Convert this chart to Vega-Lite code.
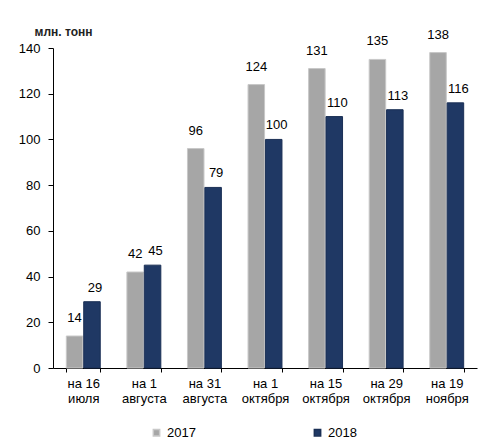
{
  "$schema": "https://vega.github.io/schema/vega-lite/v6.json",
  "autosize": "none",
  "width": 424,
  "height": 320,
  "padding": {"left": 53, "top": 48, "right": 2, "bottom": 78},
  "background": "white",
  "config": {
    "font": "Liberation Sans",
    "view": {"stroke": null}
  },
  "data": {
    "values": [
      {"date": "на 16 июля", "year": "2017", "value": 14},
      {"date": "на 16 июля", "year": "2018", "value": 29},
      {"date": "на 1 августа", "year": "2017", "value": 42},
      {"date": "на 1 августа", "year": "2018", "value": 45},
      {"date": "на 31 августа", "year": "2017", "value": 96},
      {"date": "на 31 августа", "year": "2018", "value": 79},
      {"date": "на 1 октября", "year": "2017", "value": 124},
      {"date": "на 1 октября", "year": "2018", "value": 100},
      {"date": "на 15 октября", "year": "2017", "value": 131},
      {"date": "на 15 октября", "year": "2018", "value": 110},
      {"date": "на 29 октября", "year": "2017", "value": 135},
      {"date": "на 29 октября", "year": "2018", "value": 113},
      {"date": "на 19 ноября", "year": "2017", "value": 138},
      {"date": "на 19 ноября", "year": "2018", "value": 116}
    ]
  },
  "encoding": {
    "x": {
      "field": "date", "type": "nominal", "sort": null,
      "scale": {"paddingInner": 0.44, "paddingOuter": 0.22},
      "axis": {
        "title": null, "labelAngle": 0, "labelFontSize": 13, "labelColor": "#000",
        "domainColor": "#000", "tickColor": "#000", "tickBand": "extent", "tickSize": 4,
        "labelPadding": 5, "labelLineHeight": 15,
        "labelExpr": "isString(datum.value) ? [slice(datum.value, 0, lastindexof(datum.value, ' ')), slice(datum.value, lastindexof(datum.value, ' ') + 1)] : ''"
      }
    },
    "xOffset": {"field": "year", "type": "nominal", "scale": {"paddingInner": 0.05}},
    "y": {
      "field": "value", "type": "quantitative",
      "scale": {"domain": [0, 140]},
      "axis": {
        "title": "млн. тонн", "titleAngle": 0, "titleAlign": "left", "titleBaseline": "alphabetic",
        "titleX": -19, "titleY": -13, "titleFontSize": 12, "titleFontWeight": "bold", "titleColor": "#222",
        "values": [0, 20, 40, 60, 80, 100, 120, 140],
        "grid": false, "labelFontSize": 13, "labelColor": "#000",
        "domainColor": "#000", "tickColor": "#000", "tickSize": 5, "labelPadding": 8
      }
    },
    "color": {
      "field": "year", "type": "nominal",
      "scale": {"domain": ["2017", "2018"], "range": ["#a6a6a6", "#1f3864"]},
      "legend": {
        "title": null, "orient": "none", "legendX": 97, "legendY": 378, "direction": "horizontal",
        "symbolType": "square", "symbolSize": 40, "labelFontSize": 13, "labelColor": "#000",
        "columnPadding": 115
      }
    }
  },
  "layer": [
    {"mark": {"type": "bar", "strokeWidth": 1}, "encoding": {
      "stroke": {"field": "year", "type": "nominal", "scale": {"domain": ["2017", "2018"], "range": ["#c8c8c8", "#1a2f55"]}, "legend": null}
    }},
    {"transform": [{"filter": "datum.year == '2017'"}],
     "mark": {"type": "text", "baseline": "bottom", "dy": -11, "fontSize": 13, "color": "#000"},
     "encoding": {"text": {"field": "value", "type": "quantitative"}, "color": {"value": "#000"}}},
    {"transform": [{"filter": "datum.year == '2018'"}],
     "mark": {"type": "text", "baseline": "bottom", "dy": -7, "dx": 3, "fontSize": 13, "color": "#000"},
     "encoding": {"text": {"field": "value", "type": "quantitative"}, "color": {"value": "#000"}}}
  ]
}
